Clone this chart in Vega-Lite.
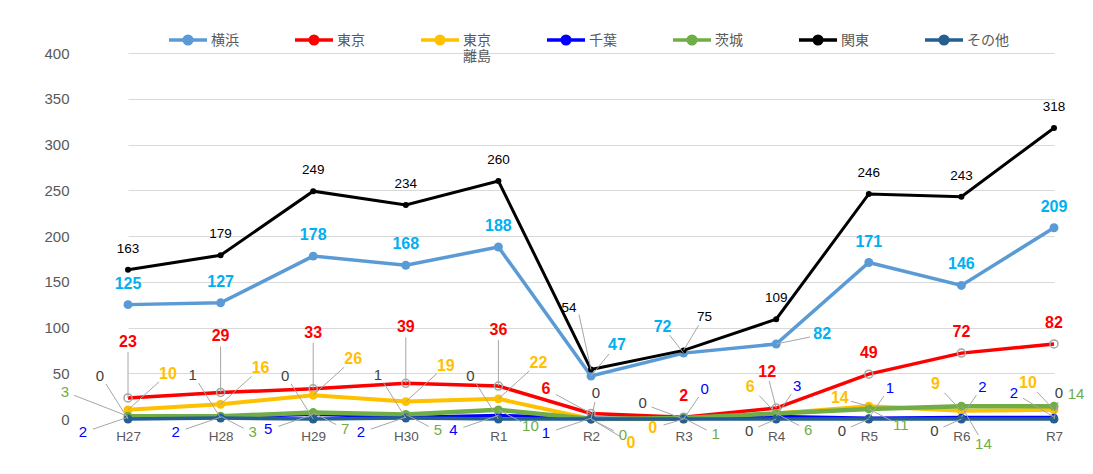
{
"$schema":"https://vega.github.io/schema/vega-lite/v6.json",
"width":1010,"height":366,
"autosize":{"type":"none"},
"padding":{"left":83,"top":53,"right":0,"bottom":55},
"background":"#ffffff",
"config":{"font":"Liberation Sans","view":{"stroke":null},"text":{"align":"center","baseline":"middle"}},
"data":{"values":[
{"x":"H27","s":"横浜","v":125},{"x":"H28","s":"横浜","v":127},{"x":"H29","s":"横浜","v":178},{"x":"H30","s":"横浜","v":168},{"x":"R1","s":"横浜","v":188},{"x":"R2","s":"横浜","v":47},{"x":"R3","s":"横浜","v":72},{"x":"R4","s":"横浜","v":82},{"x":"R5","s":"横浜","v":171},{"x":"R6","s":"横浜","v":146},{"x":"R7","s":"横浜","v":209},
{"x":"H27","s":"東京","v":23},{"x":"H28","s":"東京","v":29},{"x":"H29","s":"東京","v":33},{"x":"H30","s":"東京","v":39},{"x":"R1","s":"東京","v":36},{"x":"R2","s":"東京","v":6},{"x":"R3","s":"東京","v":2},{"x":"R4","s":"東京","v":12},{"x":"R5","s":"東京","v":49},{"x":"R6","s":"東京","v":72},{"x":"R7","s":"東京","v":82},
{"x":"H27","s":"東京離島","v":10},{"x":"H28","s":"東京離島","v":16},{"x":"H29","s":"東京離島","v":26},{"x":"H30","s":"東京離島","v":19},{"x":"R1","s":"東京離島","v":22},{"x":"R2","s":"東京離島","v":0},{"x":"R3","s":"東京離島","v":0},{"x":"R4","s":"東京離島","v":6},{"x":"R5","s":"東京離島","v":14},{"x":"R6","s":"東京離島","v":9},{"x":"R7","s":"東京離島","v":10},
{"x":"H27","s":"千葉","v":2},{"x":"H28","s":"千葉","v":2},{"x":"H29","s":"千葉","v":5},{"x":"H30","s":"千葉","v":2},{"x":"R1","s":"千葉","v":4},{"x":"R2","s":"千葉","v":1},{"x":"R3","s":"千葉","v":0},{"x":"R4","s":"千葉","v":3},{"x":"R5","s":"千葉","v":1},{"x":"R6","s":"千葉","v":2},{"x":"R7","s":"千葉","v":2},
{"x":"H27","s":"茨城","v":3},{"x":"H28","s":"茨城","v":3},{"x":"H29","s":"茨城","v":7},{"x":"H30","s":"茨城","v":5},{"x":"R1","s":"茨城","v":10},{"x":"R2","s":"茨城","v":0},{"x":"R3","s":"茨城","v":1},{"x":"R4","s":"茨城","v":6},{"x":"R5","s":"茨城","v":11},{"x":"R6","s":"茨城","v":14},{"x":"R7","s":"茨城","v":14},
{"x":"H27","s":"関東","v":163},{"x":"H28","s":"関東","v":179},{"x":"H29","s":"関東","v":249},{"x":"H30","s":"関東","v":234},{"x":"R1","s":"関東","v":260},{"x":"R2","s":"関東","v":54},{"x":"R3","s":"関東","v":75},{"x":"R4","s":"関東","v":109},{"x":"R5","s":"関東","v":246},{"x":"R6","s":"関東","v":243},{"x":"R7","s":"関東","v":318},
{"x":"H27","s":"その他","v":0},{"x":"H28","s":"その他","v":1},{"x":"H29","s":"その他","v":0},{"x":"H30","s":"その他","v":1},{"x":"R1","s":"その他","v":0},{"x":"R2","s":"その他","v":0},{"x":"R3","s":"その他","v":0},{"x":"R4","s":"その他","v":0},{"x":"R5","s":"その他","v":0},{"x":"R6","s":"その他","v":0},{"x":"R7","s":"その他","v":0}
]},
"encoding":{
"x":{"field":"x","type":"ordinal","sort":["H27","H28","H29","H30","R1","R2","R3","R4","R5","R6","R7"],"scale":{"type":"point","padding":0,"range":[45,971]},"axis":{"title":null,"domain":false,"ticks":false,"grid":false,"labelAngle":0,"labelColor":"#595959","labelFontSize":13.5,"labelPadding":10}},
"y":{"field":"v","type":"quantitative","scale":{"domain":[0,400],"nice":false},"axis":{"title":null,"domain":false,"ticks":false,"values":[0,50,100,150,200,250,300,350,400],"gridColor":"#d9d9d9","gridWidth":1.2,"labelColor":"#595959","labelFontSize":15,"labelPadding":14}}
},
"layer":[
{"transform":[{"filter":"datum.s=='横浜'"}],"mark":{"type":"line","strokeWidth":3.5},"encoding":{"color":{"field":"s","type":"nominal","scale":{"domain":["横浜","東京","東京離島","千葉","茨城","関東","その他"],"range":["#5B9BD5","#FF0000","#FFC000","#0000FF","#70AD47","#000000","#255E91"]},"legend":{"title":null,"orient":"none","legendX":84,"legendY":-34,"direction":"horizontal","columns":7,"gridAlign":"all","columnPadding":35,"symbolType":"M-1,0L1,0M-0.2,0A0.2,0.2 0 1,0 0.2,0A0.2,0.2 0 1,0 -0.2,0","symbolSize":1444,"symbolStrokeWidth":3.5,"labelFont":"Noto Sans CJK JP","labelFontSize":14,"labelColor":"#595959","labelOffset":2,"labelBaseline":"middle","labelExpr":"datum.label == '東京離島' ? ['東京','離島'] : [datum.label, ' ']","encode":{"labels":{"update":{"dy":{"value":1}}},"symbols":{"update":{"fill":{"scale":"color","field":"value"},"stroke":{"scale":"color","field":"value"}}}}}}}},
{"transform":[{"filter":"datum.s=='横浜'"}],"mark":{"type":"circle","size":80,"color":"#5B9BD5","opacity":1}},
{"transform":[{"filter":"datum.s=='東京'"}],"mark":{"type":"line","strokeWidth":3.5},"encoding":{"color":{"field":"s","type":"nominal"}}},
{"transform":[{"filter":"datum.s=='東京'"}],"mark":{"type":"point","shape":"circle","size":64,"filled":false,"stroke":"#A6A6A6","strokeWidth":1.5,"opacity":1}},
{"transform":[{"filter":"datum.s=='東京離島'"}],"mark":{"type":"line","strokeWidth":4},"encoding":{"color":{"field":"s","type":"nominal"}}},
{"transform":[{"filter":"datum.s=='東京離島'"}],"mark":{"type":"circle","size":80,"color":"#FFC000","opacity":1}},
{"transform":[{"filter":"datum.s=='千葉'"}],"mark":{"type":"line","strokeWidth":3},"encoding":{"color":{"field":"s","type":"nominal"}}},
{"transform":[{"filter":"datum.s=='千葉'"}],"mark":{"type":"circle","size":50,"color":"#0000FF","opacity":1}},
{"transform":[{"filter":"datum.s=='茨城'"}],"mark":{"type":"line","strokeWidth":4.5},"encoding":{"color":{"field":"s","type":"nominal"}}},
{"transform":[{"filter":"datum.s=='茨城'"}],"mark":{"type":"circle","size":80,"color":"#70AD47","opacity":1}},
{"transform":[{"filter":"datum.s=='関東'"}],"mark":{"type":"line","strokeWidth":3},"encoding":{"color":{"field":"s","type":"nominal"}}},
{"transform":[{"filter":"datum.s=='関東'"}],"mark":{"type":"circle","size":36,"color":"#000000","opacity":1}},
{"transform":[{"filter":"datum.s=='その他'"}],"mark":{"type":"line","strokeWidth":3.5},"encoding":{"color":{"field":"s","type":"nominal"}}},
{"transform":[{"filter":"datum.s=='その他'"}],"mark":{"type":"circle","size":80,"color":"#255E91","opacity":1}},

{"transform":[{"filter":"datum.s=='横浜' && datum.x=='R2'"}],"mark":{"type":"rule","color":"#A6A6A6","strokeWidth":1,"x2Offset":18,"y2Offset":-22},"encoding":{"x2":{"field":"x"},"y2":{"field":"v"}}},
{"transform":[{"filter":"datum.s=='横浜' && datum.x=='R3'"}],"mark":{"type":"rule","color":"#A6A6A6","strokeWidth":1,"x2Offset":-14,"y2Offset":-18},"encoding":{"x2":{"field":"x"},"y2":{"field":"v"}}},
{"transform":[{"filter":"datum.s=='横浜' && datum.x=='R4'"}],"mark":{"type":"rule","color":"#A6A6A6","strokeWidth":1,"x2Offset":34,"y2Offset":-7},"encoding":{"x2":{"field":"x"},"y2":{"field":"v"}}},
{"transform":[{"filter":"datum.s=='東京' && indexof(['H27','H28','H29','H30','R1'], datum.x) >= 0"}],"mark":{"type":"rule","color":"#A6A6A6","strokeWidth":1,"x2Offset":0,"y2Offset":-46},"encoding":{"x2":{"field":"x"},"y2":{"field":"v"}}},
{"transform":[{"filter":"datum.s=='東京' && datum.x=='R2'"}],"mark":{"type":"rule","color":"#A6A6A6","strokeWidth":1,"x2Offset":-35,"y2Offset":-19},"encoding":{"x2":{"field":"x"},"y2":{"field":"v"}}},
{"transform":[{"filter":"datum.s=='東京' && datum.x=='R4'"}],"mark":{"type":"rule","color":"#A6A6A6","strokeWidth":1,"x2Offset":-7,"y2Offset":-27},"encoding":{"x2":{"field":"x"},"y2":{"field":"v"}}},
{"transform":[{"filter":"datum.s=='東京離島' && indexof(['H27','H28','H29','H30','R1'], datum.x) >= 0"}],"mark":{"type":"rule","color":"#A6A6A6","strokeWidth":1,"x2Offset":31,"y2Offset":-28},"encoding":{"x2":{"field":"x"},"y2":{"field":"v"}}},
{"transform":[{"filter":"datum.s=='東京離島' && datum.x=='R2'"}],"mark":{"type":"rule","color":"#A6A6A6","strokeWidth":1,"x2Offset":30,"y2Offset":18},"encoding":{"x2":{"field":"x"},"y2":{"field":"v"}}},
{"transform":[{"filter":"datum.s=='東京離島' && datum.x=='R3'"}],"mark":{"type":"rule","color":"#A6A6A6","strokeWidth":1,"x2Offset":-20,"y2Offset":6},"encoding":{"x2":{"field":"x"},"y2":{"field":"v"}}},
{"transform":[{"filter":"datum.s=='東京離島' && indexof(['R4','R6','R7'], datum.x) >= 0"}],"mark":{"type":"rule","color":"#A6A6A6","strokeWidth":1,"x2Offset":-17,"y2Offset":-18},"encoding":{"x2":{"field":"x"},"y2":{"field":"v"}}},
{"transform":[{"filter":"datum.s=='東京離島' && datum.x=='R5'"}],"mark":{"type":"rule","color":"#A6A6A6","strokeWidth":1,"x2Offset":-18,"y2Offset":-5},"encoding":{"x2":{"field":"x"},"y2":{"field":"v"}}},
{"transform":[{"filter":"datum.s=='千葉' && indexof(['H27','H28','H29','H30','R1','R2'], datum.x) >= 0"}],"mark":{"type":"rule","color":"#A6A6A6","strokeWidth":1,"x2Offset":-35,"y2Offset":12},"encoding":{"x2":{"field":"x"},"y2":{"field":"v"}}},
{"transform":[{"filter":"datum.s=='千葉' && indexof(['R3','R4','R5','R6'], datum.x) >= 0"}],"mark":{"type":"rule","color":"#A6A6A6","strokeWidth":1,"x2Offset":15,"y2Offset":-22},"encoding":{"x2":{"field":"x"},"y2":{"field":"v"}}},
{"transform":[{"filter":"datum.s=='千葉' && datum.x=='R7'"}],"mark":{"type":"rule","color":"#A6A6A6","strokeWidth":1,"x2Offset":-31,"y2Offset":-19},"encoding":{"x2":{"field":"x"},"y2":{"field":"v"}}},
{"transform":[{"filter":"datum.s=='茨城' && datum.x=='H27'"}],"mark":{"type":"rule","color":"#A6A6A6","strokeWidth":1,"x2Offset":-54,"y2Offset":-21},"encoding":{"x2":{"field":"x"},"y2":{"field":"v"}}},
{"transform":[{"filter":"datum.s=='茨城' && indexof(['H28','H29','H30','R1','R2','R3','R4','R5'], datum.x) >= 0"}],"mark":{"type":"rule","color":"#A6A6A6","strokeWidth":1,"x2Offset":23,"y2Offset":12},"encoding":{"x2":{"field":"x"},"y2":{"field":"v"}}},
{"transform":[{"filter":"datum.s=='茨城' && datum.x=='R6'"}],"mark":{"type":"rule","color":"#A6A6A6","strokeWidth":1,"x2Offset":17,"y2Offset":29},"encoding":{"x2":{"field":"x"},"y2":{"field":"v"}}},
{"transform":[{"filter":"datum.s=='関東' && datum.x=='R2'"}],"mark":{"type":"rule","color":"#A6A6A6","strokeWidth":1,"x2Offset":-12,"y2Offset":-55},"encoding":{"x2":{"field":"x"},"y2":{"field":"v"}}},
{"transform":[{"filter":"datum.s=='関東' && datum.x=='R3'"}],"mark":{"type":"rule","color":"#A6A6A6","strokeWidth":1,"x2Offset":15,"y2Offset":-25},"encoding":{"x2":{"field":"x"},"y2":{"field":"v"}}},
{"transform":[{"filter":"datum.s=='その他' && indexof(['H27','H28','H29','H30','R1'], datum.x) >= 0"}],"mark":{"type":"rule","color":"#A6A6A6","strokeWidth":1,"x2Offset":-22,"y2Offset":-35},"encoding":{"x2":{"field":"x"},"y2":{"field":"v"}}},
{"transform":[{"filter":"datum.s=='その他' && indexof(['R2','R7'], datum.x) >= 0"}],"mark":{"type":"rule","color":"#A6A6A6","strokeWidth":1,"x2Offset":4,"y2Offset":-17},"encoding":{"x2":{"field":"x"},"y2":{"field":"v"}}},
{"transform":[{"filter":"datum.s=='その他' && datum.x=='R3'"}],"mark":{"type":"rule","color":"#A6A6A6","strokeWidth":1,"x2Offset":-32,"y2Offset":-12},"encoding":{"x2":{"field":"x"},"y2":{"field":"v"}}},
{"transform":[{"filter":"datum.s=='その他' && indexof(['R4','R5','R6'], datum.x) >= 0"}],"mark":{"type":"rule","color":"#A6A6A6","strokeWidth":1,"x2Offset":-18,"y2Offset":8},"encoding":{"x2":{"field":"x"},"y2":{"field":"v"}}},

{"transform":[{"filter":"datum.s=='横浜' && indexof(['R2','R3','R4'], datum.x) < 0"}],"mark":{"type":"text","dy":-21,"color":"#00B0F0","fontSize":16,"fontWeight":"bold"},"encoding":{"text":{"field":"v","type":"quantitative"}}},
{"transform":[{"filter":"datum.s=='横浜' && datum.x=='R2'"}],"mark":{"type":"text","dx":26,"dy":-31,"color":"#00B0F0","fontSize":16,"fontWeight":"bold"},"encoding":{"text":{"field":"v","type":"quantitative"}}},
{"transform":[{"filter":"datum.s=='横浜' && datum.x=='R3'"}],"mark":{"type":"text","dx":-21,"dy":-26,"color":"#00B0F0","fontSize":16,"fontWeight":"bold"},"encoding":{"text":{"field":"v","type":"quantitative"}}},
{"transform":[{"filter":"datum.s=='横浜' && datum.x=='R4'"}],"mark":{"type":"text","dx":46,"dy":-10,"color":"#00B0F0","fontSize":16,"fontWeight":"bold"},"encoding":{"text":{"field":"v","type":"quantitative"}}},
{"transform":[{"filter":"datum.s=='東京' && indexof(['H27','H28','H29','H30','R1'], datum.x) >= 0"}],"mark":{"type":"text","dy":-56,"color":"#FF0000","fontSize":16,"fontWeight":"bold"},"encoding":{"text":{"field":"v","type":"quantitative"}}},
{"transform":[{"filter":"datum.s=='東京' && datum.x=='R2'"}],"mark":{"type":"text","dx":-45,"dy":-25,"color":"#FF0000","fontSize":16,"fontWeight":"bold"},"encoding":{"text":{"field":"v","type":"quantitative"}}},
{"transform":[{"filter":"datum.s=='東京' && datum.x=='R4'"}],"mark":{"type":"text","dx":-9,"dy":-36,"color":"#FF0000","fontSize":16,"fontWeight":"bold"},"encoding":{"text":{"field":"v","type":"quantitative"}}},
{"transform":[{"filter":"datum.s=='東京' && indexof(['R3','R5','R6','R7'], datum.x) >= 0"}],"mark":{"type":"text","dy":-21,"color":"#FF0000","fontSize":16,"fontWeight":"bold"},"encoding":{"text":{"field":"v","type":"quantitative"}}},
{"transform":[{"filter":"datum.s=='東京離島' && indexof(['H27','H28','H29','H30','R1'], datum.x) >= 0"}],"mark":{"type":"text","dx":40,"dy":-36,"color":"#FFC000","fontSize":16,"fontWeight":"bold"},"encoding":{"text":{"field":"v","type":"quantitative"}}},
{"transform":[{"filter":"datum.s=='東京離島' && datum.x=='R2'"}],"mark":{"type":"text","dx":40,"dy":24,"color":"#FFC000","fontSize":16,"fontWeight":"bold"},"encoding":{"text":{"field":"v","type":"quantitative"}}},
{"transform":[{"filter":"datum.s=='東京離島' && datum.x=='R3'"}],"mark":{"type":"text","dx":-31,"dy":9,"color":"#FFC000","fontSize":16,"fontWeight":"bold"},"encoding":{"text":{"field":"v","type":"quantitative"}}},
{"transform":[{"filter":"datum.s=='東京離島' && indexof(['R4','R6','R7'], datum.x) >= 0"}],"mark":{"type":"text","dx":-26,"dy":-27,"color":"#FFC000","fontSize":16,"fontWeight":"bold"},"encoding":{"text":{"field":"v","type":"quantitative"}}},
{"transform":[{"filter":"datum.s=='東京離島' && datum.x=='R5'"}],"mark":{"type":"text","dx":-29,"dy":-8,"color":"#FFC000","fontSize":16,"fontWeight":"bold"},"encoding":{"text":{"field":"v","type":"quantitative"}}},
{"transform":[{"filter":"datum.s=='千葉' && indexof(['H27','H28','H29','H30','R1','R2'], datum.x) >= 0"}],"mark":{"type":"text","dx":-45,"dy":15,"color":"#0000FF","fontSize":15},"encoding":{"text":{"field":"v","type":"quantitative"}}},
{"transform":[{"filter":"datum.s=='千葉' && indexof(['R3','R4','R5','R6'], datum.x) >= 0"}],"mark":{"type":"text","dx":21,"dy":-30,"color":"#0000FF","fontSize":15},"encoding":{"text":{"field":"v","type":"quantitative"}}},
{"transform":[{"filter":"datum.s=='千葉' && datum.x=='R7'"}],"mark":{"type":"text","dx":-40,"dy":-24,"color":"#0000FF","fontSize":15},"encoding":{"text":{"field":"v","type":"quantitative"}}},
{"transform":[{"filter":"datum.s=='茨城' && datum.x=='H27'"}],"mark":{"type":"text","dx":-63,"dy":-24,"color":"#70AD47","fontSize":15},"encoding":{"text":{"field":"v","type":"quantitative"}}},
{"transform":[{"filter":"datum.s=='茨城' && indexof(['H28','H29','H30','R1','R2','R3','R4','R5'], datum.x) >= 0"}],"mark":{"type":"text","dx":32,"dy":16,"color":"#70AD47","fontSize":15},"encoding":{"text":{"field":"v","type":"quantitative"}}},
{"transform":[{"filter":"datum.s=='茨城' && datum.x=='R6'"}],"mark":{"type":"text","dx":22,"dy":38,"color":"#70AD47","fontSize":15},"encoding":{"text":{"field":"v","type":"quantitative"}}},
{"transform":[{"filter":"datum.s=='茨城' && datum.x=='R7'"}],"mark":{"type":"text","dx":22,"dy":-12,"color":"#70AD47","fontSize":15},"encoding":{"text":{"field":"v","type":"quantitative"}}},
{"transform":[{"filter":"datum.s=='関東' && indexof(['R2','R3'], datum.x) < 0"}],"mark":{"type":"text","dy":-21,"color":"#000000","fontSize":13.5},"encoding":{"text":{"field":"v","type":"quantitative"}}},
{"transform":[{"filter":"datum.s=='関東' && datum.x=='R2'"}],"mark":{"type":"text","dx":-22,"dy":-62,"color":"#000000","fontSize":13.5},"encoding":{"text":{"field":"v","type":"quantitative"}}},
{"transform":[{"filter":"datum.s=='関東' && datum.x=='R3'"}],"mark":{"type":"text","dx":21,"dy":-33,"color":"#000000","fontSize":13.5},"encoding":{"text":{"field":"v","type":"quantitative"}}},
{"transform":[{"filter":"datum.s=='その他' && indexof(['H27','H28','H29','H30','R1'], datum.x) >= 0"}],"mark":{"type":"text","dx":-28,"dy":-43,"color":"#404040","fontSize":15},"encoding":{"text":{"field":"v","type":"quantitative"}}},
{"transform":[{"filter":"datum.s=='その他' && indexof(['R2','R7'], datum.x) >= 0"}],"mark":{"type":"text","dx":5,"dy":-26,"color":"#404040","fontSize":15},"encoding":{"text":{"field":"v","type":"quantitative"}}},
{"transform":[{"filter":"datum.s=='その他' && datum.x=='R3'"}],"mark":{"type":"text","dx":-41,"dy":-16,"color":"#404040","fontSize":15},"encoding":{"text":{"field":"v","type":"quantitative"}}},
{"transform":[{"filter":"datum.s=='その他' && indexof(['R4','R5','R6'], datum.x) >= 0"}],"mark":{"type":"text","dx":-27,"dy":12,"color":"#404040","fontSize":15},"encoding":{"text":{"field":"v","type":"quantitative"}}}
]
}
